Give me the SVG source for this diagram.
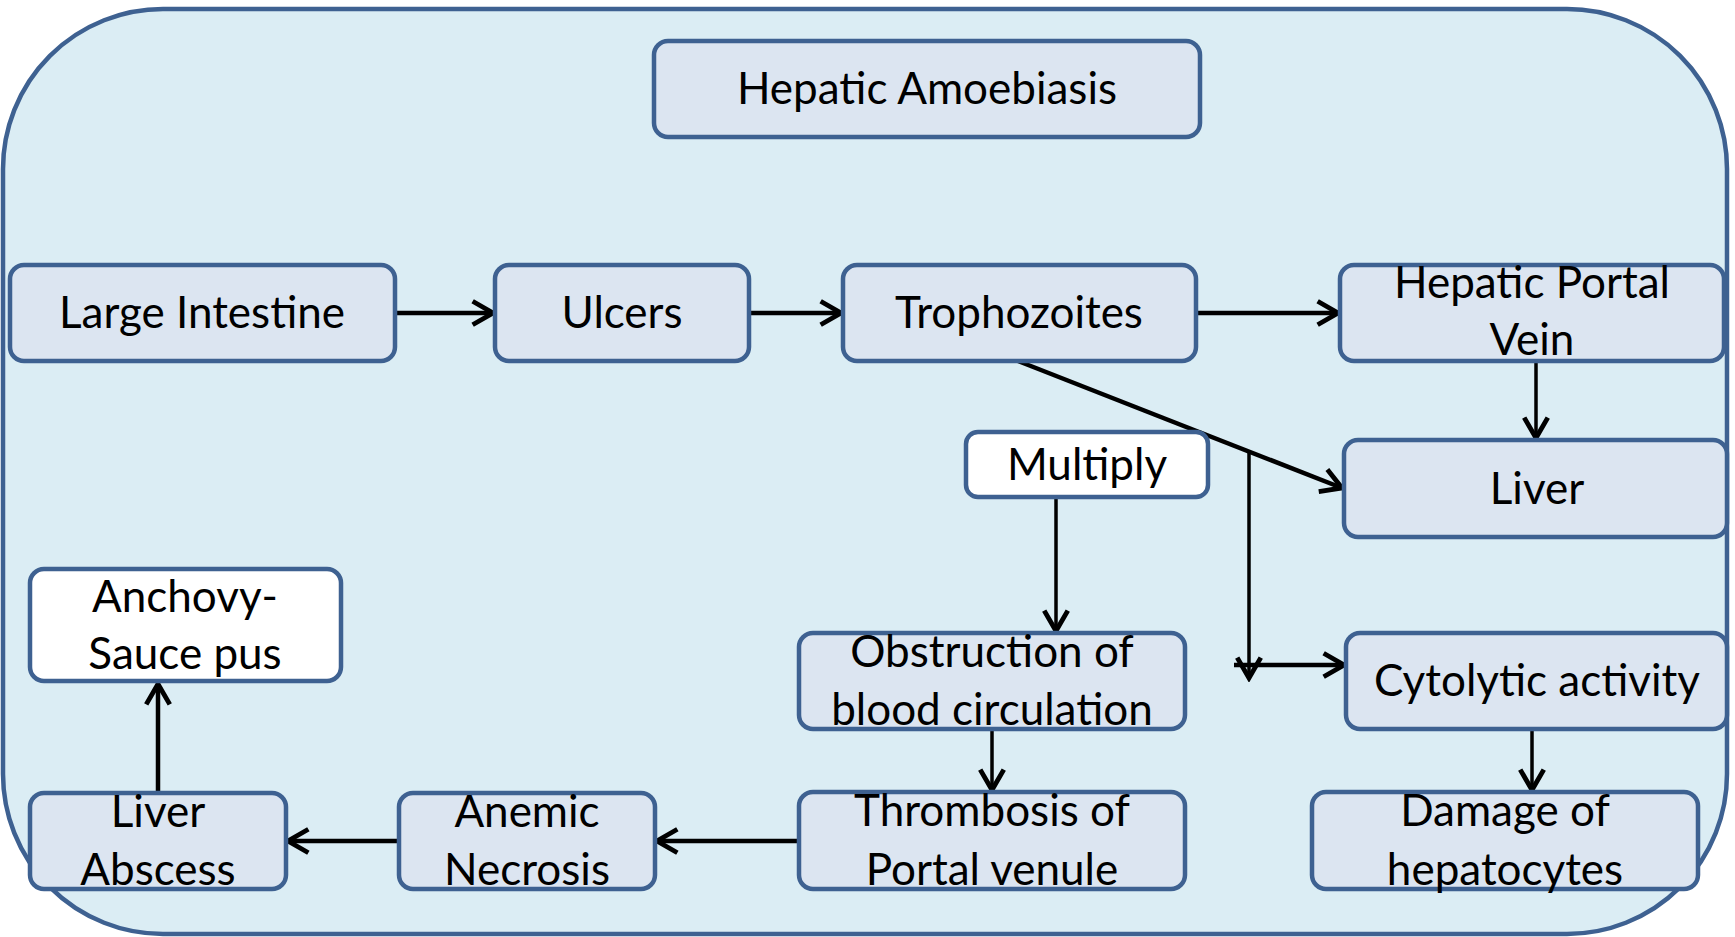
<svg xmlns="http://www.w3.org/2000/svg" width="1735" height="937" viewBox="0 0 1735 937">
<style>
.frame{fill:#dbedf4;stroke:#3e6191;stroke-width:4.5}
.box{fill:#dce5f1;stroke:#3e6191;stroke-width:4.5}
.wbox{fill:#ffffff;stroke:#3e6191;stroke-width:4.5}
text{font-family:Lato,"Open Sans","Liberation Sans",sans-serif;font-size:44px;fill:#000;text-anchor:middle}
.c{fill:none;stroke:#000;stroke-width:4.5}
.v{fill:none;stroke:#000;stroke-width:3.5}
</style>
<defs>
<marker id="ah" markerUnits="userSpaceOnUse" markerWidth="30" markerHeight="30" viewBox="-24 -14 28 28" refX="0" refY="0" orient="auto">
<path d="M-19,-11 L0,0 L-19,11" fill="none" stroke="#000" stroke-width="4.5" stroke-linejoin="miter"/>
</marker>
</defs>
<rect class="frame" x="3" y="9" width="1724" height="925" rx="160" ry="160"/>
<g id="connectors">
<line class="c" x1="395" y1="313" x2="493" y2="313" marker-end="url(#ah)"/>
<line class="c" x1="749" y1="313" x2="841" y2="313" marker-end="url(#ah)"/>
<line class="c" x1="1196" y1="313" x2="1338" y2="313" marker-end="url(#ah)"/>
<line class="v" x1="1536" y1="361" x2="1536" y2="438" marker-end="url(#ah)"/>
<line class="c" x1="1018" y1="361" x2="1342" y2="488" marker-end="url(#ah)"/>
<line class="v" x1="1056" y1="497" x2="1056" y2="631" marker-end="url(#ah)"/>
<line class="v" x1="1249" y1="452" x2="1249" y2="678" marker-end="url(#ah)"/>
<line class="c" x1="1234" y1="665" x2="1344" y2="665" marker-end="url(#ah)"/>
<line class="v" x1="1532" y1="729" x2="1532" y2="790" marker-end="url(#ah)"/>
<line class="v" x1="992" y1="729" x2="992" y2="790" marker-end="url(#ah)"/>
<line class="c" x1="799" y1="841" x2="657" y2="841" marker-end="url(#ah)"/>
<line class="c" x1="399" y1="841" x2="288" y2="841" marker-end="url(#ah)"/>
<line class="c" x1="158" y1="793" x2="158" y2="684" marker-end="url(#ah)"/>
</g>
<g id="n-title"><rect class="box" x="654" y="41" width="546" height="96" rx="14"/><text x="927" y="104">Hepatic Amoebiasis</text></g>
<g id="n-large-intestine"><rect class="box" x="10" y="265" width="385" height="96" rx="14"/><text x="202" y="328">Large Intestine</text></g>
<g id="n-ulcers"><rect class="box" x="495" y="265" width="254" height="96" rx="14"/><text x="622" y="328">Ulcers</text></g>
<g id="n-trophozoites"><rect class="box" x="843" y="265" width="353" height="96" rx="14"/><text x="1019" y="328">Trophozoites</text></g>
<g id="n-hpv"><rect class="box" x="1340" y="265" width="384" height="96" rx="14"/><text x="1532" y="298">Hepatic Portal</text><text x="1532" y="355">Vein</text></g>
<g id="n-multiply"><rect class="wbox" x="966" y="432" width="242" height="65" rx="12"/><text x="1087" y="480">Multiply</text></g>
<g id="n-liver"><rect class="box" x="1344" y="440" width="383" height="97" rx="14"/><text x="1537" y="504">Liver</text></g>
<g id="n-obstruction"><rect class="box" x="799" y="633" width="386" height="96" rx="14"/><text x="992" y="667">Obstruction of</text><text x="992" y="725">blood circulation</text></g>
<g id="n-cytolytic"><rect class="box" x="1346" y="633" width="381" height="96" rx="14"/><text x="1537" y="696">Cytolytic activity</text></g>
<g id="n-anchovy"><rect class="wbox" x="30" y="569" width="311" height="112" rx="14"/><text x="185" y="612">Anchovy-</text><text x="185" y="669">Sauce pus</text></g>
<g id="n-liver-abscess"><rect class="box" x="30" y="793" width="256" height="96" rx="14"/><text x="158" y="827">Liver</text><text x="158" y="885">Abscess</text></g>
<g id="n-anemic"><rect class="box" x="399" y="793" width="256" height="96" rx="14"/><text x="527" y="827">Anemic</text><text x="527" y="885">Necrosis</text></g>
<g id="n-thrombosis"><rect class="box" x="799" y="792" width="386" height="97" rx="14"/><text x="992" y="826">Thrombosis of</text><text x="992" y="885">Portal venule</text></g>
<g id="n-damage"><rect class="box" x="1312" y="792" width="386" height="97" rx="14"/><text x="1505" y="826">Damage of</text><text x="1505" y="885">hepatocytes</text></g>
</svg>
